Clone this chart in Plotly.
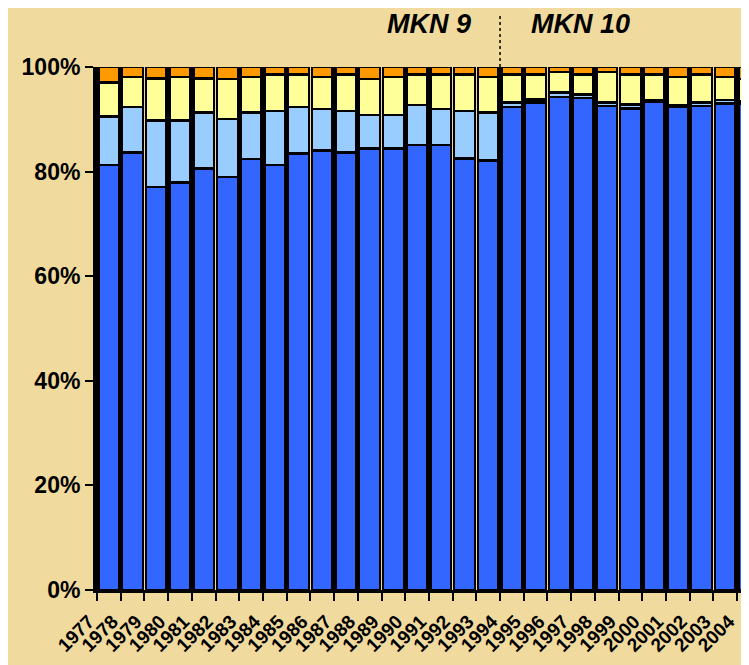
import plotly.graph_objects as go

# years on the x axis
years = [str(y) for y in range(1977, 2005)]

# shares in percent, bottom to top of each stack
dark_blue = [81.3, 83.7, 77.1, 77.9, 80.6, 79.0, 82.4, 81.3, 83.5, 84.0,
             83.7, 84.4, 84.4, 85.1, 85.1, 82.5, 82.1, 92.4, 93.2, 94.3,
             94.1, 92.5, 92.1, 93.4, 92.4, 92.5, 93.0, 92.9]
light_blue = [9.2, 8.7, 12.7, 11.9, 10.7, 11.1, 8.9, 10.3, 8.9, 8.0,
              7.9, 6.4, 6.4, 7.6, 6.9, 9.1, 9.2, 0.8, 0.6, 0.8,
              0.6, 0.7, 0.7, 0.3, 0.3, 0.7, 0.7, 0.5]
yellow = [6.5, 5.7, 8.0, 8.3, 6.5, 7.6, 6.8, 7.0, 6.2, 6.1,
          7.0, 6.9, 7.3, 5.9, 6.6, 7.0, 6.8, 5.4, 4.8, 3.9,
          3.9, 5.8, 5.8, 4.9, 5.4, 5.4, 4.4, 4.3]
orange = [3.0, 1.9, 2.2, 1.9, 2.2, 2.3, 1.9, 1.4, 1.4, 1.9,
          1.4, 2.3, 1.9, 1.4, 1.4, 1.4, 1.9, 1.4, 1.4, 1.0,
          1.4, 1.0, 1.4, 1.4, 1.9, 1.4, 1.9, 2.3]

series = [
    (dark_blue, "#3366FF"),
    (light_blue, "#99CCFF"),
    (yellow, "#FFFF99"),
    (orange, "#FF9900"),
]

bg = "#F0DA9E"
font = "Liberation Sans, Arial, sans-serif"

fig = go.Figure()
for vals, col in series:
    fig.add_trace(go.Bar(
        x=years, y=vals,
        marker=dict(color=col, line=dict(color="black", width=2.5)),
        showlegend=False,
    ))

# page body has an 8px margin, so the figure is a bit smaller than the window
fig.update_layout(
    barmode="stack",
    bargap=0.12,
    width=741, height=657,
    margin=dict(l=89, r=0, t=59, b=75),
    paper_bgcolor=bg, plot_bgcolor=bg,
    font=dict(family=font, color="black"),
)

fig.update_xaxes(
    type="category",
    range=[-0.5, 27.0],
    tickmode="linear", tick0=0, dtick=1,
    showline=True, linecolor="black", linewidth=3,
    ticks="outside", tickson="boundaries", ticklen=8, tickwidth=2, tickcolor="black",
    tickangle=-45,
    tickfont=dict(size=19, weight="bold"),
    ticklabelstandoff=10, ticklabelshift=-20,
    showgrid=False, zeroline=False, automargin=False,
)
fig.update_yaxes(
    range=[0, 100], dtick=20, ticksuffix="%",
    showline=True, linecolor="black", linewidth=4,
    ticks="outside", ticklen=8, tickwidth=2, tickcolor="black",
    tickfont=dict(size=23, weight="bold"),
    showgrid=False, zeroline=False, automargin=False,
)

# MKN 9 / MKN 10 split between 1993 and 1994
fig.add_shape(type="line", xref="x", yref="paper",
              x0=16.5, x1=16.5, y0=1.0, y1=1.1,
              line=dict(color="black", width=1.5, dash="dot"))
for txt, xpos in [("MKN 9", 13.5), ("MKN 10", 19.9)]:
    fig.add_annotation(text=txt, x=xpos, y=1.083, xref="x", yref="paper",
                       showarrow=False, yanchor="middle",
                       font=dict(size=27, weight="bold", style="italic"))

fig.write_html("out.html")
